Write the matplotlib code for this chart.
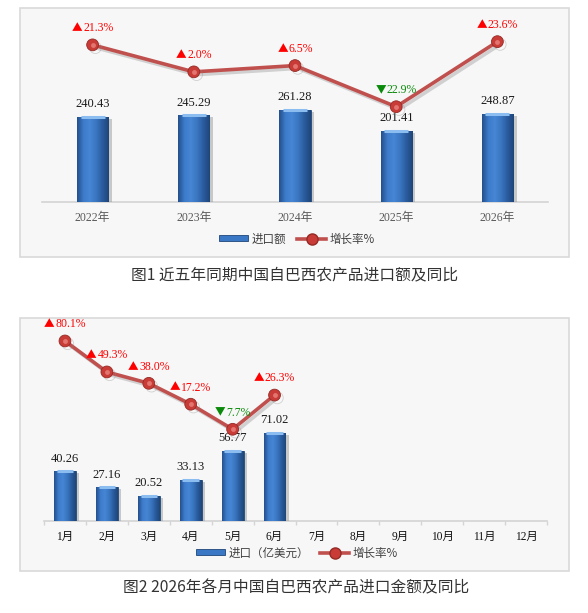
import numpy as np
import matplotlib
matplotlib.use("Agg")
import matplotlib.pyplot as plt
import matplotlib.patheffects as pe
from matplotlib.colors import LinearSegmentedColormap
from matplotlib.patches import Rectangle
from matplotlib.lines import Line2D

# chart 1: five years
years = ["2022年", "2023年", "2024年", "2025年", "2026年"]
year_import = [240.43, 245.29, 261.28, 201.41, 248.87]
year_growth = [21.3, 2.0, 6.5, -22.9, 23.6]

# chart 2: months of 2026
months = ["1月", "2月", "3月", "4月", "5月", "6月", "7月", "8月", "9月", "10月", "11月", "12月"]
month_import = [40.26, 27.16, 20.52, 33.13, 56.77, 71.02]
month_growth = [80.1, 49.3, 38.0, 17.2, -7.7, 26.3]

W, H = 588, 613
SERIF = ["Liberation Serif", "Noto Sans CJK SC"]
CJK = ["Noto Sans CJK SC", "DejaVu Sans"]

bar_cmap = LinearSegmentedColormap.from_list(
    "barblue", ["#24508c", "#3d7bcb", "#4686d4", "#3a76c2", "#2a5c9e", "#1f4679"])

fig = plt.figure(figsize=(W / 100, H / 100), dpi=100)
fig.patch.set_facecolor("white")
growth_texts = []


def px_box(left, top, right, bottom):
    return [left / W, 1 - bottom / H, (right - left) / W, (bottom - top) / H]


def panel(left, top, right, bottom):
    x, y, w, h = px_box(left, top, right, bottom)
    fig.add_artist(Rectangle((x, y), w, h, transform=fig.transFigure,
                             facecolor="#f7f7f7", edgecolor="#d9d9d9", lw=1.2, zorder=0))


def draw_bars(ax, xs, vals, width):
    bars = ax.bar(xs, vals, width, color="#3a78c6", edgecolor="#1f4679", lw=0.6, zorder=3,
                  path_effects=[pe.withSimplePatchShadow(offset=(2.5, -1.5), shadow_rgbFace="#9a9a9a", alpha=0.5)])
    grad = np.linspace(0, 1, 64).reshape(1, -1)
    for b in bars:
        x0, w, h = b.get_x(), b.get_width(), b.get_height()
        im = ax.imshow(grad, cmap=bar_cmap, aspect="auto", zorder=4, extent=(x0, x0 + w, 0, h))
        im.set_clip_path(b)
        # light bevel on top of the bar
        ax.plot([x0 + w * 0.12, x0 + w * 0.88], [h, h], color="#8cbdf0", lw=2.2,
                solid_capstyle="butt", zorder=5)
    return bars


def growth_labels(ax, xs, vals, size):
    for x, v in zip(xs, vals):
        if v >= 0:
            arrow, col = "▲", "#ff0000"
        else:
            arrow, col = "▼", "#0a8a0a"
        a = ax.annotate(arrow, (x, v), xytext=(0, 12), textcoords="offset points",
                        ha="left", va="center", color=col, fontsize=size * 0.9,
                        family=CJK, zorder=7)
        n = ax.annotate("%.1f%%" % abs(v), (x, v), xytext=(0, 12), textcoords="offset points",
                        ha="left", va="center", color=col, fontsize=size,
                        family=SERIF, zorder=7)
        growth_texts.append((a, n))


def center_growth_labels():
    r = fig.canvas.get_renderer()
    k = 72 / fig.dpi
    for a, n in growth_texts:
        wa = a.get_window_extent(r).width + 0.5
        wn = n.get_window_extent(r).width
        tot = wa + wn
        a.set_position((-tot / 2 * k, 12))
        n.set_position(((-tot / 2 + wa) * k, 12))


def line(ax, xs, vals):
    ln, = ax.plot(xs, vals, color="#c0504d", lw=2.6, zorder=5,
                  marker="o", ms=8.5, mfc="#c93b36", mec="#952a26", mew=0.6,
                  path_effects=[pe.SimpleLineShadow(offset=(2, -2), shadow_color="#888888", alpha=0.35),
                                pe.Normal()])
    ax.plot(xs, vals, ls="none", marker="o", ms=3.5, mfc="#ef8f89", mec="none",
            alpha=0.7, zorder=6)
    return ln


def legend(ax, lbl1, lbl2, cx, cy):
    lh = Line2D([], [], color="#c0504d", lw=2.6, marker="o", ms=8, mfc="#c93b36", mec="#952a26")
    bh = Rectangle((0, 0), 1, 1, facecolor="#3a78c6", edgecolor="#1f4679", lw=0.6)
    ax.legend([bh, lh], [lbl1, lbl2], loc="center", bbox_to_anchor=(cx / W, 1 - cy / H),
              bbox_transform=fig.transFigure, ncol=2, frameon=False,
              prop={"family": CJK, "size": 8.3}, labelcolor="#404040",
              handlelength=2.5, handleheight=0.45, handletextpad=0.3, columnspacing=1.0)


def style_axes(ax, ax2):
    for a in (ax, ax2):
        a.set_facecolor("none")
        for s in a.spines.values():
            s.set_visible(False)
        a.set_yticks([])
    ax.spines["bottom"].set_visible(True)
    ax.spines["bottom"].set_color("#d4d4d4")
    ax.spines["bottom"].set_linewidth(1.2)


# ---------------- figure 1 ----------------
panel(20, 8, 569, 257)
ax1 = fig.add_axes(px_box(42, 25, 548, 202))
ax1b = ax1.twinx()
x1 = np.arange(len(years))
draw_bars(ax1, x1, year_import, 0.31)
for x, v in zip(x1, year_import):
    ax1.annotate("%.2f" % v, (x, v), xytext=(0, 9), textcoords="offset points",
                 ha="center", va="center", fontsize=9, family=SERIF, color="#1a1a1a", zorder=7)
line(ax1b, x1, year_growth)
growth_labels(ax1b, x1, year_growth, 8.5)
ax1.set_xlim(-0.5, len(years) - 0.5)
ax1.set_ylim(0, 500)
ax1b.set_ylim(-91, 35.5)
style_axes(ax1, ax1b)
ax1.set_xticks(x1)
ax1.set_xticklabels(years, family=SERIF, fontsize=8.5, color="#595959")
ax1.tick_params(axis="x", length=0, pad=7)
legend(ax1, "进口额", "增长率%", 297, 239)
fig.text(295 / W, 1 - 275 / H, "图1 近五年同期中国自巴西农产品进口额及同比",
         ha="center", va="center", fontsize=11.3, family=CJK, color="#333333")

# ---------------- figure 2 ----------------
panel(20, 318, 569, 571)
ax2 = fig.add_axes(px_box(44, 330, 547, 521))
ax2b = ax2.twinx()
x2 = np.arange(len(months))
xm = x2[:len(month_import)]
draw_bars(ax2, xm, month_import, 0.52)
for x, v in zip(xm, month_import):
    ax2.annotate("%.2f" % v, (x, v), xytext=(0, 9), textcoords="offset points",
                 ha="center", va="center", fontsize=9, family=SERIF, color="#1a1a1a", zorder=7)
line(ax2b, xm, month_growth)
growth_labels(ax2b, xm, month_growth, 8.5)
ax2.set_xlim(-0.5, len(months) - 0.5)
ax2.set_ylim(0, 154)
ax2b.set_ylim(-98.9, 91.0)
style_axes(ax2, ax2b)
ax2.set_xticks(x2)
ax2.set_xticklabels(months, family=SERIF, fontsize=8.3, color="#111111")
ax2.set_xticks(np.arange(-0.5, len(months)), minor=True)
ax2.tick_params(axis="x", which="major", length=0, pad=7)
ax2.tick_params(axis="x", which="minor", length=3, color="#d4d4d4", width=1)
legend(ax2, "进口（亿美元）", "增长率%", 297, 553)
fig.text(296 / W, 1 - 588 / H, "图2 2026年各月中国自巴西农产品进口金额及同比",
         ha="center", va="center", fontsize=11.3, family=CJK, color="#333333")

center_growth_labels()
fig.savefig("out.png", dpi=100)
